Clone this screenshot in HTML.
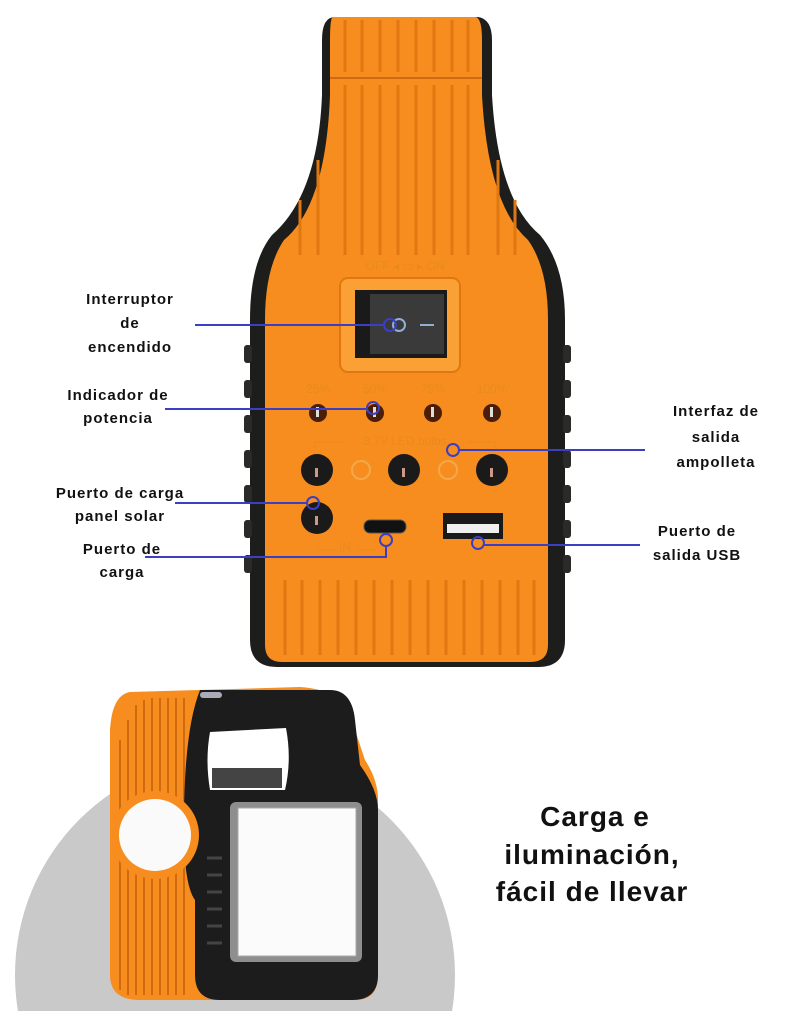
<!DOCTYPE html>
<html><head><meta charset="utf-8"><style>
html,body{margin:0;padding:0;background:#fff;width:800px;height:1011px;overflow:hidden;}
svg{display:block;}
.l{font-family:"Liberation Sans","DejaVu Sans",sans-serif;font-weight:bold;font-size:15px;letter-spacing:1px;fill:#111;text-anchor:middle;}
.b{font-family:"Liberation Sans","DejaVu Sans",sans-serif;font-weight:bold;font-size:28px;letter-spacing:1px;fill:#111;text-anchor:middle;}
.f{font-family:"Liberation Sans",sans-serif;font-size:12px;fill:#e88a20;text-anchor:middle;}
</style></head><body>
<svg width="800" height="1011" viewBox="0 0 800 1011" xmlns="http://www.w3.org/2000/svg">
<rect width="800" height="1011" fill="#fff"/>
<path d="M335 17 L478 17 Q492 19 492 40 L492 95 Q498 200 540 235 Q565 265 565 320 L565 640 Q565 667 538 667 L277 667 Q250 667 250 640 L250 320 Q250 262 272 235 Q318 195 322 95 L322 40 Q322 17 335 17 Z" fill="#1d1d1b"/>
<path d="M333 17 L476 17 Q482 19 482 40 L482 95 Q488 205 528 240 Q548 268 548 320 L548 645 Q548 662 530 662 L282 662 Q265 662 265 645 L265 320 Q265 268 284 240 Q326 205 330 95 L330 40 Q330 17 333 17 Z" fill="#f78d1e"/>
<g stroke="#e07812" stroke-width="3">
<line x1="345" y1="20" x2="345" y2="72"/><line x1="362" y1="20" x2="362" y2="72"/><line x1="380" y1="20" x2="380" y2="72"/><line x1="398" y1="20" x2="398" y2="72"/><line x1="416" y1="20" x2="416" y2="72"/><line x1="434" y1="20" x2="434" y2="72"/><line x1="452" y1="20" x2="452" y2="72"/><line x1="468" y1="20" x2="468" y2="72"/>
<line x1="345" y1="85" x2="345" y2="255"/><line x1="362" y1="85" x2="362" y2="255"/><line x1="380" y1="85" x2="380" y2="255"/><line x1="398" y1="85" x2="398" y2="255"/><line x1="416" y1="85" x2="416" y2="255"/><line x1="434" y1="85" x2="434" y2="255"/><line x1="452" y1="85" x2="452" y2="255"/><line x1="468" y1="85" x2="468" y2="255"/>
<line x1="300" y1="200" x2="300" y2="255"/><line x1="318" y1="160" x2="318" y2="255"/><line x1="498" y1="160" x2="498" y2="255"/><line x1="515" y1="200" x2="515" y2="255"/>
<line x1="285" y1="580" x2="285" y2="655"/><line x1="302" y1="580" x2="302" y2="655"/><line x1="320" y1="580" x2="320" y2="655"/><line x1="338" y1="580" x2="338" y2="655"/><line x1="356" y1="580" x2="356" y2="655"/><line x1="374" y1="580" x2="374" y2="655"/><line x1="392" y1="580" x2="392" y2="655"/><line x1="410" y1="580" x2="410" y2="655"/><line x1="428" y1="580" x2="428" y2="655"/><line x1="446" y1="580" x2="446" y2="655"/><line x1="464" y1="580" x2="464" y2="655"/><line x1="482" y1="580" x2="482" y2="655"/><line x1="500" y1="580" x2="500" y2="655"/><line x1="518" y1="580" x2="518" y2="655"/><line x1="534" y1="580" x2="534" y2="655"/>
</g>
<line x1="330" y1="78" x2="482" y2="78" stroke="#d06a10" stroke-width="2"/>
<g fill="#2a2a28">
<rect x="244" y="345" width="8" height="18" rx="3"/><rect x="244" y="380" width="8" height="18" rx="3"/><rect x="244" y="415" width="8" height="18" rx="3"/><rect x="244" y="450" width="8" height="18" rx="3"/><rect x="244" y="485" width="8" height="18" rx="3"/><rect x="244" y="520" width="8" height="18" rx="3"/><rect x="244" y="555" width="8" height="18" rx="3"/>
<rect x="563" y="345" width="8" height="18" rx="3"/><rect x="563" y="380" width="8" height="18" rx="3"/><rect x="563" y="415" width="8" height="18" rx="3"/><rect x="563" y="450" width="8" height="18" rx="3"/><rect x="563" y="485" width="8" height="18" rx="3"/><rect x="563" y="520" width="8" height="18" rx="3"/><rect x="563" y="555" width="8" height="18" rx="3"/>
</g>
<text class="f" x="405" y="270" font-size="10">OFF ◂ ▭ ▸ ON</text>
<rect x="340" y="278" width="120" height="94" rx="8" fill="#faa035" stroke="#e07812" stroke-width="2"/>
<rect x="355" y="290" width="92" height="68" fill="#1a1a1a"/>
<rect x="370" y="294" width="74" height="60" fill="#3a3a3a"/>
<circle cx="399" cy="325" r="6" fill="none" stroke="#8fb0d0" stroke-width="2"/>
<line x1="420" y1="325" x2="434" y2="325" stroke="#8fb0d0" stroke-width="2"/>
<text class="f" x="318" y="393">25%</text><text class="f" x="375" y="393">50%</text><text class="f" x="433" y="393">75%</text><text class="f" x="492" y="393">100%</text>
<g fill="#4a1e08"><circle cx="318" cy="413" r="9"/><circle cx="375" cy="413" r="9"/><circle cx="433" cy="413" r="9"/><circle cx="492" cy="413" r="9"/></g>
<g fill="#ddd"><rect x="316" y="407" width="3" height="10"/><rect x="373" y="407" width="3" height="10"/><rect x="431" y="407" width="3" height="10"/><rect x="490" y="407" width="3" height="10"/></g>
<text class="f" x="405" y="445" font-size="14">3.7V LED bulbs</text>
<path d="M315 448 V442 H345 M468 442 H495 V448" stroke="#e88a20" fill="none"/>
<g fill="#1a1a1a"><circle cx="317" cy="470" r="16"/><circle cx="404" cy="470" r="16"/><circle cx="492" cy="470" r="16"/><circle cx="317" cy="518" r="16"/></g>
<g fill="#c98"><rect x="315" y="468" width="3" height="9"/><rect x="402" y="468" width="3" height="9"/><rect x="490" y="468" width="3" height="9"/><rect x="315" y="516" width="3" height="9"/></g>
<circle cx="361" cy="470" r="9" fill="none" stroke="#f5a84a" stroke-width="2"/>
<circle cx="448" cy="470" r="9" fill="none" stroke="#f5a84a" stroke-width="2"/>
<rect x="364" y="520" width="42" height="13" rx="6" fill="#111" stroke="#555"/>
<rect x="443" y="513" width="60" height="26" fill="#1a1a1a"/>
<rect x="447" y="524" width="52" height="9" fill="#f0f0f0"/>
<text class="f" x="345" y="551" font-size="13">IN</text>
<path d="M318 545 V550 H335 M358 550 H375" stroke="#e88a20" fill="none"/>
<g stroke="#3b3fc4" stroke-width="2" fill="none">
<line x1="195" y1="325" x2="384" y2="325"/><circle cx="390" cy="325" r="6"/>
<line x1="165" y1="409" x2="367" y2="409"/><circle cx="373" cy="408" r="6"/>
<line x1="459" y1="450" x2="645" y2="450"/><circle cx="453" cy="450" r="6"/>
<line x1="175" y1="503" x2="307" y2="503"/><circle cx="313" cy="503" r="6"/>
<path d="M145 557 H386 V546"/><circle cx="386" cy="540" r="6"/>
<line x1="484" y1="545" x2="640" y2="545"/><circle cx="478" cy="543" r="6"/>
</g>
<text class="l" x="130" y="304">Interruptor</text>
<text class="l" x="130" y="328">de</text>
<text class="l" x="130" y="352">encendido</text>
<text class="l" x="118" y="400">Indicador de</text>
<text class="l" x="118" y="423">potencia</text>
<text class="l" x="716" y="416">Interfaz de</text>
<text class="l" x="716" y="442">salida</text>
<text class="l" x="716" y="467">ampolleta</text>
<text class="l" x="120" y="498">Puerto de carga</text>
<text class="l" x="120" y="521">panel solar</text>
<text class="l" x="122" y="554">Puerto de</text>
<text class="l" x="122" y="577">carga</text>
<text class="l" x="697" y="536">Puerto de</text>
<text class="l" x="697" y="560">salida USB</text>
<circle cx="235" cy="975" r="220" fill="#c9c9c9"/>
<path d="M130 692 L300 687 Q350 690 355 730 L365 760 Q378 780 378 800 L378 975 Q378 1000 355 1000 L140 1000 Q110 1000 110 975 L110 730 Q112 695 130 692 Z" fill="#f78d1e"/>
<g stroke="#d06a10" stroke-width="2">
<line x1="120" y1="740" x2="120" y2="990"/><line x1="128" y1="720" x2="128" y2="995"/><line x1="136" y1="705" x2="136" y2="995"/><line x1="144" y1="700" x2="144" y2="995"/><line x1="152" y1="698" x2="152" y2="995"/><line x1="160" y1="698" x2="160" y2="995"/><line x1="168" y1="698" x2="168" y2="995"/><line x1="176" y1="698" x2="176" y2="995"/><line x1="184" y1="698" x2="184" y2="995"/>
</g>
<path d="M200 690 L330 690 Q352 690 355 720 L360 765 Q378 790 378 810 L378 975 Q378 1000 352 1000 L220 1000 Q195 1000 195 975 L195 900 Q180 880 185 780 Q188 720 200 690 Z" fill="#1c1c1c"/>
<path d="M210 732 L286 728 Q292 760 285 790 L210 790 Q205 760 210 732 Z" fill="#fff"/>
<rect x="212" y="768" width="70" height="20" fill="#444"/>
<rect x="200" y="692" width="22" height="6" rx="3" fill="#aab"/>
<circle cx="155" cy="835" r="44" fill="#f78d1e"/>
<circle cx="155" cy="835" r="36" fill="#fafafa"/>
<rect x="230" y="802" width="132" height="160" fill="#ffffff" opacity="0.5" rx="6"/>
<rect x="238" y="808" width="118" height="148" fill="#fbfbfb" stroke="#aaa"/>
<g stroke="#444" stroke-width="3"><line x1="207" y1="858" x2="222" y2="858"/><line x1="207" y1="875" x2="222" y2="875"/><line x1="207" y1="892" x2="222" y2="892"/><line x1="207" y1="909" x2="222" y2="909"/><line x1="207" y1="926" x2="222" y2="926"/><line x1="207" y1="943" x2="222" y2="943"/></g>
<text class="b" x="595" y="826">Carga e</text>
<text class="b" x="592" y="864">iluminación,</text>
<text class="b" x="592" y="901">fácil de llevar</text>
</svg>
</body></html>
